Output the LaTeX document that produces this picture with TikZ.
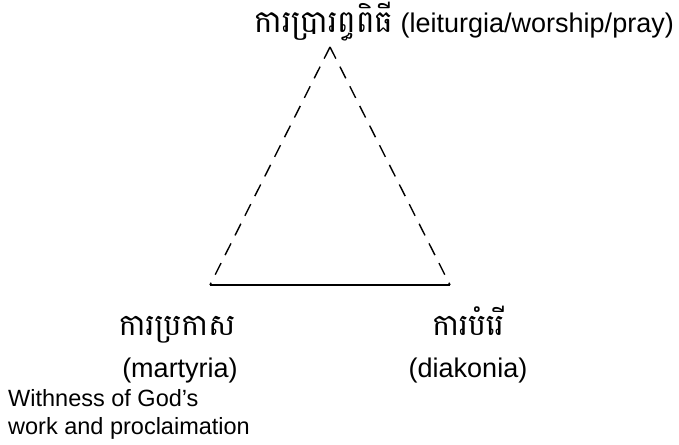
\documentclass[tikz,border=0pt]{standalone}
\usepackage{fontspec}
\setmainfont{Liberation Sans}
\newfontfamily\khmerfont[Script=Khmer]{Battambang}
\usetikzlibrary{positioning}

\begin{document}
\begin{tikzpicture}[x=1pt,y=-1pt,
  kh/.style={font=\khmerfont\fontsize{30}{34}\selectfont,inner sep=0pt},
  lat/.style={font=\fontsize{27}{30}\selectfont,inner sep=0pt},
  note/.style={font=\fontsize{23.5}{28}\selectfont,align=left,inner sep=0pt},
  side/.style={dash pattern=on 13pt off 9pt,line width=1.4pt},
  base/.style={line width=2pt}]
  \useasboundingbox (0,0) rectangle (679,444);
  % corners of the triangle
  \coordinate (top) at (330,47);
  \coordinate (left) at (210,285);
  \coordinate (right) at (450,285);
  % labels
  \node[lat,anchor=base east] (leit) at (674,33) {{\khmerfont\fontsize{31}{34}\selectfont ការប្រារព្ធពិធី} (leiturgia/worship/pray)};
  \node[lat,anchor=base] (mart) at (180,377) {(martyria)};
  \node[kh,anchor=base] (prokas) at (177,335) {ការប្រកាស};
  \node[lat,anchor=base] (diak) at (468,377) {(diakonia)};
  \node[kh,anchor=base] (bamrae) at (468,335) {ការបំរើ};
  \node[note,anchor=north west] (witness) at (8,389) {Withness of God’s\\work and proclaimation};
  \draw[side] (top) -- (left);
  \draw[side] (top) -- (right);
  \draw[base] (left) -- (right);
\end{tikzpicture}
\end{document}
